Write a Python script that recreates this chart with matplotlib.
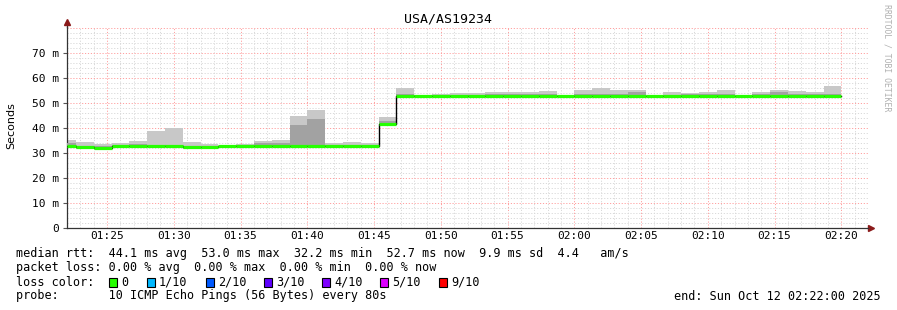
#imports
import matplotlib
matplotlib.use('Agg')
import matplotlib.pyplot as plt
from matplotlib.patches import Rectangle
import numpy as np

#data (one value per 80 s step, first step is partial)
step_sec = 80
first_edge_min = 40 / 60          # first full step starts at 01:22:40
median = [32.8, 32.3, 32.2, 32.8, 32.8, 32.8, 32.8, 32.3, 32.3, 32.7,
          32.8, 32.8, 32.8, 32.8, 32.8, 32.8, 32.8, 32.8, 41.5, 52.9,
          52.9, 52.9, 52.9, 52.9, 52.9, 52.9, 52.9, 52.9, 52.8, 52.9,
          52.9, 53.0, 53.0, 52.8, 52.9, 52.9, 52.9, 52.9, 52.8, 52.9,
          52.9, 52.9, 52.8, 52.7]
smoke_top = [35.1, 34.4, 33.5, 34.1, 34.8, 38.8, 40.1, 34.4, 33.6, 32.9,
             33.6, 34.8, 35.2, 44.9, 47.2, 34.2, 34.4, 34.1, 44.3, 56.1,
             53.3, 53.6, 53.9, 53.9, 54.3, 54.3, 54.3, 54.8, 53.3, 55.2,
             56.1, 55.2, 55.2, 53.3, 54.3, 53.9, 54.3, 55.2, 53.3, 54.3,
             55.2, 54.8, 54.3, 56.8]
smoke_dark = [34.0, 33.0, 32.7, 33.3, 33.5, 33.4, 33.4, 32.8, 32.8, 32.8,
              33.2, 34.0, 34.2, 41.2, 43.7, 33.3, 33.3, 33.3, 42.8, 53.8,
              53.1, 53.2, 53.3, 53.3, 53.6, 53.8, 53.5, 53.6, 53.0, 53.6,
              53.6, 53.6, 54.3, 53.0, 53.4, 53.6, 53.5, 53.6, 53.0, 53.6,
              54.6, 53.8, 53.5, 53.6]
x_ticklabels = ['01:25', '01:30', '01:35', '01:40', '01:45', '01:50',
                '01:55', '02:00', '02:05', '02:10', '02:15', '02:20']
y_ticklabels = ['0', '10 m', '20 m', '30 m', '40 m', '50 m', '60 m', '70 m']
loss_labels = ['0', '1/10', '2/10', '3/10', '4/10', '5/10', '9/10']
loss_colors = ['#26ff00', '#00b8ff', '#0059ff', '#5e00ff', '#7e00ff', '#dd00ff', '#ff0000']

#step edges in minutes after 01:22
n = len(median)
edges = np.concatenate([[0], first_edge_min + np.arange(n) * step_sec / 60])
left = edges[:-1]
width = np.diff(edges)
median = np.array(median)

#plotting
W, H = 897, 310
fig = plt.figure(figsize=(W / 100, H / 100), dpi=100)
ax = fig.add_axes([67 / W, (H - 228) / H, 801 / W, 201 / H])
mono = 'DejaVu Sans Mono'

ax.set_xlim(0, 60)
ax.set_ylim(0, 80.4)

#grid
for m in range(1, 61):
    c = '#ffa0a0' if (m + 2) % 5 == 0 else '#d9d9d9'
    ax.axvline(m, color=c, lw=0.7, ls=(0, (1.2, 1.8)), zorder=0)
for v in range(2, 81, 2):
    c = '#ffa0a0' if v % 10 == 0 else '#d9d9d9'
    ax.axhline(v, color=c, lw=0.7, ls=(0, (1.2, 1.8)), zorder=0)

#smoke
ax.bar(left, np.array(smoke_top) - (median - 0.5), bottom=median - 0.5, width=width,
       align='edge', color='#c8c8c8', lw=0, zorder=2)
ax.bar(left, np.array(smoke_dark) - (median - 0.3), bottom=median - 0.3, width=width,
       align='edge', color='#a2a2a2', lw=0, zorder=3)

#median
ax.step(edges, np.append(median, median[-1]), where='post', color='black', lw=1.0, zorder=4)
ax.hlines(median, left, edges[1:], color=loss_colors[0], lw=2.3, zorder=5)

#axes
ax.set_xticks([3 + 5 * i for i in range(len(x_ticklabels))])
ax.set_xticklabels(x_ticklabels, fontfamily=mono, fontsize=8)
ax.set_yticks(range(0, 80, 10))
ax.set_yticklabels(y_ticklabels, fontfamily=mono, fontsize=8)
ax.tick_params(axis='x', length=0, pad=2)
ax.tick_params(axis='y', length=3, pad=3, color='#555555')
for s in ['top', 'right']:
    ax.spines[s].set_visible(False)
for s in ['left', 'bottom']:
    ax.spines[s].set_color('#333333')
    ax.spines[s].set_linewidth(0.9)
ax.plot([0, 0], [1, 1.025], color='#333333', lw=0.9, transform=ax.transAxes, clip_on=False)
ax.plot([1, 1.003], [0, 0], color='#333333', lw=0.9, transform=ax.transAxes, clip_on=False)
ax.plot([0], [1.025], marker='^', color='#8b1a1a', ms=4, transform=ax.transAxes, clip_on=False)
ax.plot([1.004], [0], marker='>', color='#8b1a1a', ms=4, transform=ax.transAxes, clip_on=False)

#texts
fig.text(448 / W, 1 - 19 / H, 'USA/AS19234', ha='center', va='center', fontfamily=mono, fontsize=9.5)
fig.text(11 / W, 1 - 126 / H, 'Seconds', rotation=90, ha='center', va='center', fontsize=8)
fig.text(887 / W, 1 - 4 / H, 'RRDTOOL / TOBI OETIKER', rotation=270, ha='center', va='top',
         fontfamily=mono, fontsize=5.9, color='#b0b0b0')

lines = ['median rtt:  44.1 ms avg  53.0 ms max  32.2 ms min  52.7 ms now  9.9 ms sd  4.4   am/s',
         'packet loss: 0.00 % avg  0.00 % max  0.00 % min  0.00 % now',
         'loss color:',
         'probe:       10 ICMP Echo Pings (56 Bytes) every 80s']
for i, t in enumerate(lines):
    fig.text(16 / W, 1 - (254 + 14 * i) / H, t, ha='left', va='center', fontfamily=mono, fontsize=8.5)
fig.text(881 / W, 1 - 296 / H, 'end: Sun Oct 12 02:22:00 2025', ha='right', va='center',
         fontfamily=mono, fontsize=8.5)

sq_x = [109, 147, 206, 264, 322, 380, 439]
for x, lab, c in zip(sq_x, loss_labels, loss_colors):
    fig.patches.append(Rectangle((x / W, 1 - 287 / H), 8 / W, 9 / H, transform=fig.transFigure,
                                 facecolor=c, edgecolor='black', lw=0.8))
    fig.text((x + 12) / W, 1 - 282 / H, lab, ha='left', va='center', fontfamily=mono, fontsize=8.5)

fig.savefig('out.png', dpi=100)
